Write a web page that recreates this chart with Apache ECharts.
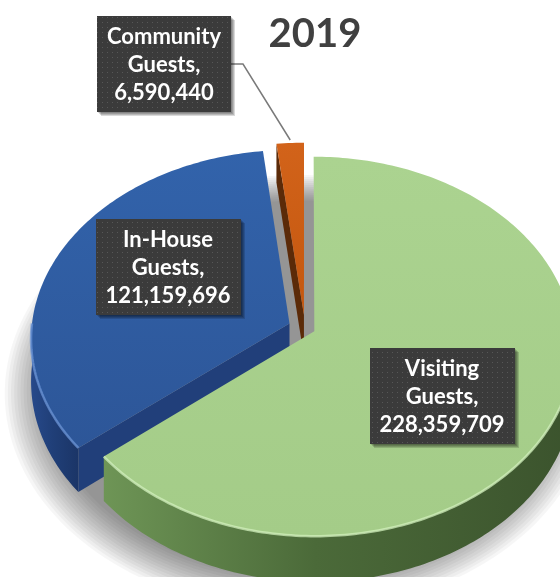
<!DOCTYPE html>
<html>
<head>
<meta charset="utf-8">
<script src="https://cdn.jsdelivr.net/npm/echarts@6/dist/echarts.min.js"></script>
<style>
  html, body { margin: 0; padding: 0; background: #ffffff; }
  #chart { width: 560px; height: 577px; }
</style>
</head>
<body>
<div id="chart"></div>
<script>
// Guest totals for 2019
const categories = ['Visiting Guests', 'In-House Guests', 'Community Guests'];
const guestCounts = [228359709, 121159696, 6590440];
const titleText = '2019';

// Look of each slice: top face, outer wall, cut face, bevel rim, pull-out distance
const sliceStyles = [
  { top: ['#abd390', '#a4cc88'], wall: ['#6e9556', '#4b6a39', '#3b532d'], cut: '#4f6f3c', rim: '#d2f0bc', explode: 0.04 },
  { top: ['#3263ab', '#2d5698'], wall: ['#27498a', '#203f78', '#1b3567'], cut: '#213f7a', rim: '#6a93d6', explode: 0.065 },
  { top: ['#d2631a', '#c4570f'], wall: ['#7a3508', '#5e2806', '#4a2005'], cut: '#5b2a08', rim: '#eb9656', explode: 0.07 }
];

// Tilted disc projection (centre, radii, wall depth, perspective strength)
const disc = { cx: 305, cy: 328, rx: 258, ry: 188, depth: 42, persp: 0.08 };

// Centres of the label boxes, in category order
const labelBoxes = [[442, 396], [168, 267], [164, 64]];
const labelFont = { size: 22, lineHeight: 28, family: 'Lato', padX: 10, padY: 6 };

const total = guestCounts.reduce((a, b) => a + b, 0);
const startShares = guestCounts.map((v, i) =>
  guestCounts.slice(0, i).reduce((a, b) => a + b, 0) / total);

function project(X, Z, h) {
  const p = 1 / (1 - disc.persp * Z);
  return [disc.cx + disc.rx * X * p, disc.cy + (disc.ry * Z + disc.depth * h) * p];
}

function formatCount(v) {
  return String(v).replace(/\B(?=(\d{3})+(?!\d))/g, ',');
}

function labelLines(name, value) {
  const words = name.split(' ');
  words[words.length - 1] += ',';
  return words.concat([formatCount(value)]);
}

// Dotted dark texture used behind the labels
const dotTile = document.createElement('canvas');
dotTile.width = 5; dotTile.height = 5;
(function () {
  const c = dotTile.getContext('2d');
  c.fillStyle = '#3b3b3b';
  c.fillRect(0, 0, 5, 5);
  c.fillStyle = '#575757';
  c.fillRect(2, 2, 1, 1);
})();

const measureCtx = document.createElement('canvas').getContext('2d');
measureCtx.font = 'bold ' + labelFont.size + 'px ' + labelFont.family;

// Soft floor shadow under the whole disc, built from stacked translucent rings
function floorShadow() {
  const layers = [];
  for (let k = 0; k < 14; k++) {
    const r = 0.98 + 0.012 * k;
    const pts = [];
    for (let d = 0; d < 360; d += 2) {
      const a = d * Math.PI / 180;
      const q = project(r * Math.sin(a), -r * Math.cos(a), 0.85);
      pts.push([q[0] - 6, q[1] + 10]);
    }
    layers.push({
      type: 'polygon', silent: true, z: 0,
      shape: { points: pts },
      style: { fill: '#000000', opacity: 0.035 }
    });
  }
  return layers;
}

function renderSlice(params, api) {
  const i = params.dataIndex;
  const value = api.value(0);
  const st = sliceStyles[i];
  const a0 = startShares[i] * Math.PI * 2;
  const a1 = a0 + value / total * Math.PI * 2;
  const mid = (a0 + a1) / 2;
  const ox = st.explode * Math.sin(mid);
  const oz = -st.explode * Math.cos(mid);
  const pt = (a, r, h) => project(ox + r * Math.sin(a), oz - r * Math.cos(a), h);
  const arc = (from, to, h) => {
    const n = Math.max(2, Math.ceil((to - from) / (Math.PI / 180)));
    const pts = [];
    for (let k = 0; k <= n; k++) pts.push(pt(from + (to - from) * k / n, 1, h));
    return pts;
  };
  const centreTop = pt(0, 0, 0);
  const centreBottom = pt(0, 0, 1);
  const children = [];

  // curved outer wall on the near side
  const w0 = Math.max(a0, Math.PI / 2), w1 = Math.min(a1, Math.PI * 1.5);
  if (w1 > w0) {
    const topArc = arc(w0, w1, 0);
    const botArc = arc(w0, w1, 1).reverse();
    children.push({
      type: 'polygon', z2: 5.6,
      shape: { points: topArc.concat(botArc) },
      style: {
        fill: new echarts.graphic.LinearGradient(1, 0, 0, 0, [
          { offset: 0, color: st.wall[2] },
          { offset: 0.55, color: st.wall[1] },
          { offset: 1, color: st.wall[0] }
        ])
      }
    });
  }

  // flat cut faces that turn towards the viewer
  const cutFace = (a, z2) => ({
    type: 'polygon', z2: z2,
    shape: { points: [centreTop, pt(a, 1, 0), pt(a, 1, 1), centreBottom] },
    style: { fill: st.cut }
  });
  if (-Math.sin(a0) > 1e-3) children.push(cutFace(a0, 5 - 0.5 * Math.cos(a0) + oz));
  if (Math.sin(a1) > 1e-3) children.push(cutFace(a1, 5 - 0.5 * Math.cos(a1) + oz));

  // top face
  children.push({
    type: 'polygon', z2: 10,
    shape: { points: [centreTop].concat(arc(a0, a1, 0)) },
    style: {
      fill: new echarts.graphic.LinearGradient(0, 0, 0, 1, [
        { offset: 0, color: st.top[0] },
        { offset: 1, color: st.top[1] }
      ])
    }
  });

  // bevel highlight along the near rim
  if (w1 > w0) {
    children.push({
      type: 'polyline', z2: 11, silent: true,
      shape: { points: arc(w0, w1, 0) },
      style: { stroke: st.rim, lineWidth: 2.5, opacity: 0.75, fill: null }
    });
  }

  // label box with category and value
  const lines = labelLines(categories[i], value);
  const textW = Math.max.apply(null, lines.map(s => measureCtx.measureText(s).width));
  const boxW = Math.round(textW + labelFont.padX * 2);
  const boxH = lines.length * labelFont.lineHeight + labelFont.padY * 2;
  const [lx, ly] = labelBoxes[i];
  const bx = Math.round(lx - boxW / 2), by = Math.round(ly - boxH / 2);

  const ex = (lx - disc.cx) / disc.rx, ey = (ly - disc.cy) / disc.ry;
  if (ex * ex + ey * ey > 1) {
    const tip = pt(mid, 1, 0);
    children.push({
      type: 'polyline', z2: 19, silent: true,
      shape: { points: [[bx + boxW, ly], [bx + boxW + 12, ly], [tip[0], tip[1] - 3]] },
      style: { stroke: '#7a7a7a', lineWidth: 1.5, fill: null }
    });
  }

  // drop shadow of the box, stacked offsets
  for (let s = 1; s <= 4; s++) {
    children.push({
      type: 'rect', z2: 19.5, silent: true,
      shape: { x: bx + s, y: by + s, width: boxW, height: boxH },
      style: { fill: '#000000', opacity: 0.15 }
    });
  }
  children.push({
    type: 'rect', z2: 20,
    shape: { x: bx, y: by, width: boxW, height: boxH },
    style: { fill: { image: dotTile, repeat: 'repeat' } }
  });
  children.push({
    type: 'text', z2: 21, silent: true,
    style: {
      text: lines.join('\n'),
      x: lx, y: ly + 1,
      align: 'center', verticalAlign: 'middle',
      font: 'bold ' + labelFont.size + 'px ' + labelFont.family,
      lineHeight: labelFont.lineHeight,
      fill: '#ffffff'
    }
  });

  return { type: 'group', children: children };
}

const chart = echarts.init(document.getElementById('chart'), null, { renderer: 'canvas' });
chart.setOption({
  animation: false,
  backgroundColor: '#ffffff',
  title: {
    text: titleText,
    left: 315, top: 14, textAlign: 'center', padding: 0,
    textStyle: { fontFamily: 'Lato', fontWeight: 'bold', fontSize: 40, color: '#404040' }
  },
  graphic: { elements: floorShadow() },
  series: [{
    type: 'custom',
    coordinateSystem: 'none',
    z: 2,
    renderItem: renderSlice,
    data: guestCounts.map((v, i) => ({ name: categories[i], value: [v] }))
  }]
});
</script>
</body>
</html>
